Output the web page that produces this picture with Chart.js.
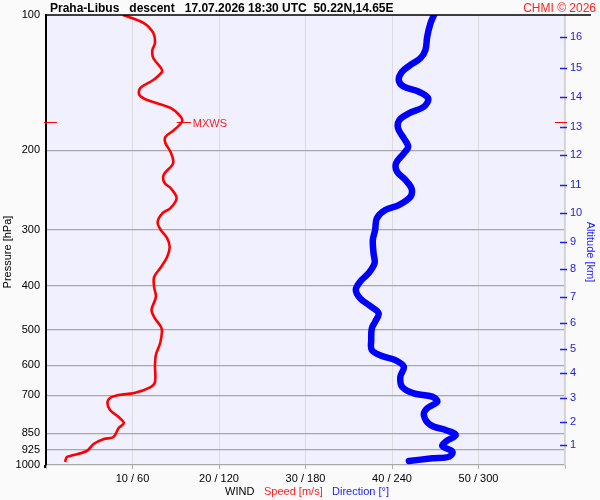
<!DOCTYPE html>
<html>
<head>
<meta charset="utf-8">
<script src="https://cdn.jsdelivr.net/npm/chart.js@4.4.1/dist/chart.umd.min.js"></script>
<style>
  html, body { margin: 0; padding: 0; background: #fafafa; }
  #wrap { width: 600px; height: 500px; }
</style>
</head>
<body>
<div id="wrap"><canvas id="c" width="600" height="500"></canvas></div>
<script>
// ---- data ----
const pressureTicks = [100, 200, 300, 400, 500, 600, 700, 850, 925, 1000];
const speedTicks = [10, 20, 30, 40, 50];
const dirTicks = [60, 120, 180, 240, 300];
const altitudeKm = [1, 2, 3, 4, 5, 6, 7, 8, 9, 10, 11, 12, 13, 14, 15, 16];
const altitudeHpa = [903, 804, 711, 626, 551, 483, 423, 367, 319, 276, 239, 205, 177, 152, 131, 112];

const speedHpa = [100, 104.2, 109.6, 115.4, 119.6, 124.6, 131.2, 133.9, 139.5, 145.3, 150.6, 154.5, 160.9, 168.5, 172.9, 180.1, 186.7, 192.5, 201.6, 213.3, 226.7, 236.2, 242.4, 255.1, 268.5, 275.4, 288.4, 299, 313.1, 327.8, 345, 363.1, 382.2, 402.2, 423.3, 452.3, 469, 493.6, 506.3, 535.6, 569.5, 599.5, 654, 671, 691.8, 698.9, 709.8, 728.2, 754.8, 782.4, 806.8, 827.7, 866.7, 875.6, 898.2, 931, 954.9, 959.8, 984.8];
const speedMs = [8.9, 11.3, 12.4, 12.6, 12.3, 12.4, 13.3, 13.4, 12.4, 10.9, 10.8, 11.7, 14.4, 15.6, 15.7, 14.8, 13.8, 13.8, 14.4, 14.7, 13.6, 13.7, 14.4, 15.1, 14.4, 13.5, 12.9, 13.2, 14.0, 14.3, 14.0, 13.3, 12.5, 12.5, 12.7, 12.2, 12.5, 13.3, 13.4, 13.2, 12.7, 12.6, 12.6, 12.1, 10.2, 8.4, 7.4, 7.1, 7.4, 8.4, 9.0, 8.4, 7.8, 6.7, 5.5, 4.7, 2.8, 2.4, 2.2];

const dirHpa = [100, 104.3, 111.8, 119.6, 124.8, 129.1, 133.7, 139.5, 144.3, 148.1, 153.2, 159.9, 165.4, 171.2, 178.6, 187.9, 196.2, 203, 213.6, 222.9, 232.6, 242.7, 253.4, 264.4, 271.3, 283, 300.5, 316.2, 338.5, 356.3, 375, 391.4, 408.4, 426.2, 443.3, 460.2, 480.5, 497, 527.6, 555.2, 572.6, 584.5, 604.8, 636.6, 669.9, 692.9, 705, 723.3, 748.2, 774.3, 815, 836.1, 857.7, 887.6, 907.5, 934.2, 958.5, 966.3, 979.7];
const dirDeg = [269.1, 266.7, 264.4, 263.2, 259.7, 252.8, 247.0, 244.7, 248.2, 258.6, 265.1, 262.1, 251.7, 245.1, 244.2, 248.2, 251.2, 248.2, 242.8, 243.5, 249.3, 253.5, 252.8, 244.7, 235.3, 229.5, 228.3, 226.7, 227.2, 227.9, 223.7, 217.9, 214.9, 217.9, 224.9, 230.7, 228.3, 226.0, 225.6, 226.0, 233.0, 242.3, 248.2, 245.8, 247.0, 255.1, 267.9, 271.4, 264.4, 262.1, 266.7, 277.2, 284.2, 277.2, 274.9, 281.9, 279.6, 267.9, 251.7];

const mxwsHpa = 173;
const mxwsSpeed = 15.7;

const titleText = 'Praha-Libus   descent   17.07.2026 18:30 UTC  50.22N,14.65E';
const creditText = 'CHMI \u00A9 2026';

// ---- plugins ----
const decor = {
  id: 'decor',
  beforeDraw(chart) {
    const { ctx, chartArea: a } = chart;
    ctx.save();
    ctx.fillStyle = '#fafafa';
    ctx.fillRect(0, 0, chart.width, chart.height);
    ctx.fillStyle = '#f0f0ff';
    ctx.fillRect(a.left, a.top, a.right - a.left, a.bottom - a.top);
    ctx.restore();
  },
  afterDraw(chart) {
    const { ctx, chartArea: a, scales } = chart;
    ctx.save();
    // top line
    ctx.strokeStyle = '#000';
    ctx.lineWidth = 1.5;
    ctx.beginPath();
    ctx.moveTo(a.left - 1, a.top);
    ctx.lineTo(591, a.top);
    ctx.stroke();
    // left axis extension below
    ctx.lineWidth = 2;
    ctx.beginPath();
    ctx.moveTo(a.left - 1, a.bottom);
    ctx.lineTo(a.left - 1, a.bottom + 3);
    ctx.stroke();
    // title
    ctx.fillStyle = '#000';
    ctx.font = 'bold 12px "Liberation Sans", Arial, sans-serif';
    ctx.textBaseline = 'alphabetic';
    ctx.textAlign = 'left';
    ctx.fillText(titleText, 50, 12);
    ctx.fillStyle = '#ff2020';
    ctx.font = '12px "Liberation Sans", Arial, sans-serif';
    ctx.textAlign = 'right';
    ctx.fillText(creditText, 596, 12);
    // bottom axis caption
    ctx.font = '11px "Liberation Sans", Arial, sans-serif';
    ctx.textAlign = 'left';
    ctx.textBaseline = 'middle';
    ctx.fillStyle = '#000';
    ctx.fillText('WIND', 225, 492);
    ctx.fillStyle = '#ff2020';
    ctx.fillText('Speed [m/s]', 264, 492);
    ctx.fillStyle = '#2020ff';
    ctx.fillText('Direction [\u00B0]', 332, 492);
    // axis titles
    ctx.textAlign = 'center';
    ctx.font = '11px "Liberation Sans", Arial, sans-serif';
    ctx.save();
    ctx.translate(8, 252);
    ctx.rotate(-Math.PI / 2);
    ctx.fillStyle = '#000';
    ctx.fillText('Pressure [hPa]', 0, 0);
    ctx.restore();
    ctx.save();
    ctx.translate(590, 252);
    ctx.rotate(Math.PI / 2);
    ctx.fillStyle = '#2020ff';
    ctx.fillText('Altitude [km]', 0, 0);
    ctx.restore();
    // right axis tick marks
    const y2 = scales.y2;
    ctx.strokeStyle = '#2020e0';
    ctx.lineWidth = 1.5;
    altitudeHpa.forEach(p => {
      const py = Math.round(y2.getPixelForValue(p)) + 0.5;
      ctx.beginPath();
      ctx.moveTo(a.right - 5, py);
      ctx.lineTo(a.right + 2, py);
      ctx.stroke();
    });
    // MXWS marker
    const my = Math.round(scales.y.getPixelForValue(mxwsHpa)) + 0.5;
    const mx = scales.x.getPixelForValue(mxwsSpeed);
    ctx.strokeStyle = '#ff0000';
    ctx.lineWidth = 1.2;
    ctx.beginPath();
    ctx.moveTo(a.left - 2, my); ctx.lineTo(a.left + 11, my);
    ctx.moveTo(mx - 5, my); ctx.lineTo(mx + 9, my);
    ctx.moveTo(a.right - 10, my); ctx.lineTo(a.right + 2, my);
    ctx.stroke();
    ctx.fillStyle = '#ff2020';
    ctx.font = '11px "Liberation Sans", Arial, sans-serif';
    ctx.textAlign = 'left';
    ctx.textBaseline = 'middle';
    ctx.fillText('MXWS', mx + 11, my + 1);
    ctx.restore();
  }
};

const font11 = { family: '"Liberation Sans", Arial, sans-serif', size: 11 };

new Chart(document.getElementById('c'), {
  type: 'scatter',
  data: {
    datasets: [
      {
        label: 'Direction',
        data: dirHpa.map((p, i) => ({ x: dirDeg[i], y: p })),
        xAxisID: 'x2', yAxisID: 'y',
        showLine: true, borderColor: '#0000ff', borderWidth: 6.5,
        pointRadius: 0, tension: 0.35, borderCapStyle: 'round', borderJoinStyle: 'round'
      },
      {
        label: 'Speed',
        data: speedHpa.map((p, i) => ({ x: speedMs[i], y: p })),
        xAxisID: 'x', yAxisID: 'y',
        showLine: true, borderColor: '#ff0000', borderWidth: 2.6,
        pointRadius: 0, tension: 0.35, borderJoinStyle: 'round'
      }
    ]
  },
  options: {
    responsive: false,
    animation: false,
    devicePixelRatio: 1,
    layout: { padding: { top: 15, left: 0, right: 0, bottom: 0 } },
    plugins: { legend: { display: false }, tooltip: { enabled: false }, title: { display: false } },
    scales: {
      x: {
        type: 'linear', position: 'bottom', min: 0, max: 60,
        afterBuildTicks: s => { s.ticks = [0].concat(speedTicks, [60]).map(v => ({ value: v })); },
        afterFit: s => { s.height = 35; },
        ticks: {
          font: font11, color: '#000', padding: 3, maxRotation: 0, autoSkip: false,
          callback: v => { const i = speedTicks.indexOf(v); return i >= 0 ? speedTicks[i] + ' / ' + dirTicks[i] : ''; }
        },
        grid: { color: '#dcdcdc', lineWidth: 1, tickLength: 4, tickColor: '#b0b0b0' },
        border: { display: false }
      },
      x2: { type: 'linear', min: 0, max: 360, display: false },
      y: {
        type: 'logarithmic', position: 'left', reverse: true, min: 100, max: 1000,
        afterBuildTicks: s => { s.ticks = pressureTicks.map(v => ({ value: v })); },
        afterFit: s => { s.width = 46; },
        ticks: { font: font11, color: '#000', padding: 6, autoSkip: false, callback: v => String(v) },
        grid: {
          drawTicks: false,
          color: c => (c.tick && c.tick.value === 100) ? 'rgba(0,0,0,0)' : '#a8a8a8',
          lineWidth: 1.2
        },
        border: { display: true, color: '#000', width: 2 },
        title: { display: false }
      },
      y2: {
        type: 'logarithmic', position: 'right', reverse: true, min: 100, max: 1000,
        afterBuildTicks: s => { s.ticks = altitudeHpa.map(v => ({ value: v })); },
        afterFit: s => { s.width = 35; },
        ticks: {
          font: font11, color: '#2020e0', padding: 5, autoSkip: false,
          callback: (v, i) => String(altitudeKm[i])
        },
        grid: { drawOnChartArea: false, drawTicks: false },
        border: { display: true, color: '#d4d4d4', width: 1.5 },
        title: { display: false }
      }
    }
  },
  plugins: [decor]
});
</script>
</body>
</html>
